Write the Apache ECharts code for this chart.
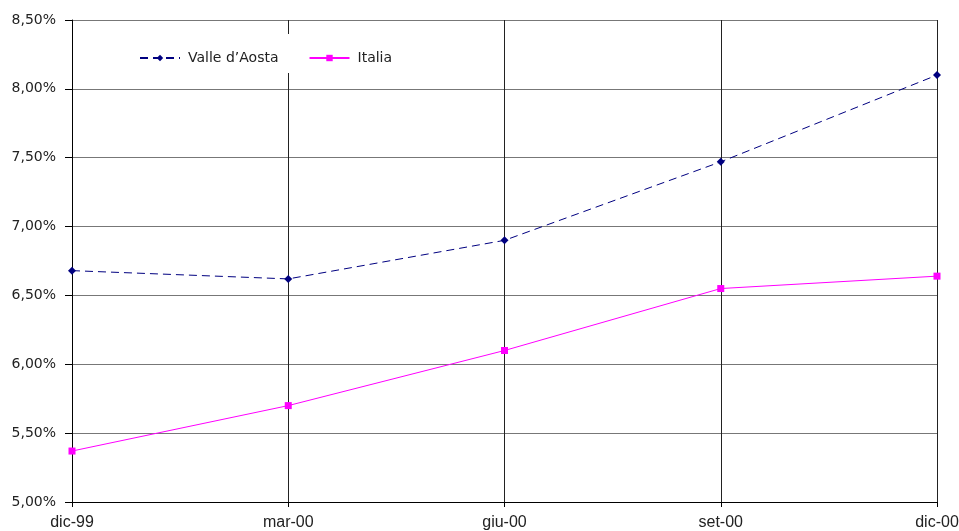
<!DOCTYPE html>
<html>
<head>
<meta charset="utf-8">
<script src="https://cdn.jsdelivr.net/npm/echarts@6/dist/echarts.min.js"></script>
<style>
html,body{margin:0;padding:0;background:#fff;}
#chart{width:959px;height:531px;}
</style>
</head>
<body>
<div id="chart"></div>
<script>
// Quarterly rates (%), Dec 1999 – Dec 2000
const periods = ['dic-99', 'mar-00', 'giu-00', 'set-00', 'dic-00'];
const valleDAosta = [6.68, 6.62, 6.90, 7.47, 8.10];
const italia = [5.37, 5.70, 6.10, 6.55, 6.64];

const font = '"Liberation Sans", Arial, sans-serif';
const wideFont = '"DejaVu Sans", sans-serif';
const chart = echarts.init(document.getElementById('chart'));
chart.setOption({
  animation: false,
  backgroundColor: '#fff',
  grid: { left: 72, right: 22, top: 20, bottom: 29, containLabel: false, outerBoundsMode: 'none' },
  graphic: [{
    type: 'rect', left: 124, top: 34, z: 3,
    shape: { width: 292, height: 39 },
    style: { fill: '#fff' }
  }],
  legend: {
    left: 134, top: 46, z: 4,
    itemWidth: 40, itemHeight: 8, itemGap: 30,
    textStyle: { fontFamily: wideFont, fontSize: 14, color: '#222', padding: [0, 0, 0, 3] },
    data: [
      { name: 'Valle d\u2019Aosta', lineStyle: { width: 2 } },
      { name: 'Italia' }
    ]
  },
  xAxis: {
    type: 'category', data: periods, boundaryGap: false,
    axisLine: { lineStyle: { color: '#000', width: 1 } },
    axisTick: { show: true, length: 5, lineStyle: { color: '#000' } },
    axisLabel: { fontFamily: font, fontSize: 16, color: '#222', margin: 13 },
    splitLine: { show: true, lineStyle: { color: '#222', width: 1 } }
  },
  yAxis: {
    type: 'value', min: 5, max: 8.5, interval: 0.5,
    axisLine: { show: true, lineStyle: { color: '#000', width: 1 } },
    axisTick: { show: true, length: 7, lineStyle: { color: '#000' } },
    axisLabel: {
      fontFamily: wideFont, fontSize: 14, color: '#222', margin: 16,
      formatter: v => v.toFixed(2).replace('.', ',') + '%'
    },
    splitLine: { show: true, lineStyle: { color: '#777', width: 1 } }
  },
  series: [
    {
      name: 'Valle d\u2019Aosta', type: 'line', data: valleDAosta,
      symbol: 'diamond', symbolSize: 8, z: 5,
      itemStyle: { color: '#000080' },
      lineStyle: { color: '#000080', width: 1, type: [8, 5] }
    },
    {
      name: 'Italia', type: 'line', data: italia,
      symbol: 'rect', symbolSize: 7, z: 5,
      itemStyle: { color: '#ff00ff' },
      lineStyle: { color: '#ff00ff', width: 1 }
    }
  ]
});
</script>
</body>
</html>
